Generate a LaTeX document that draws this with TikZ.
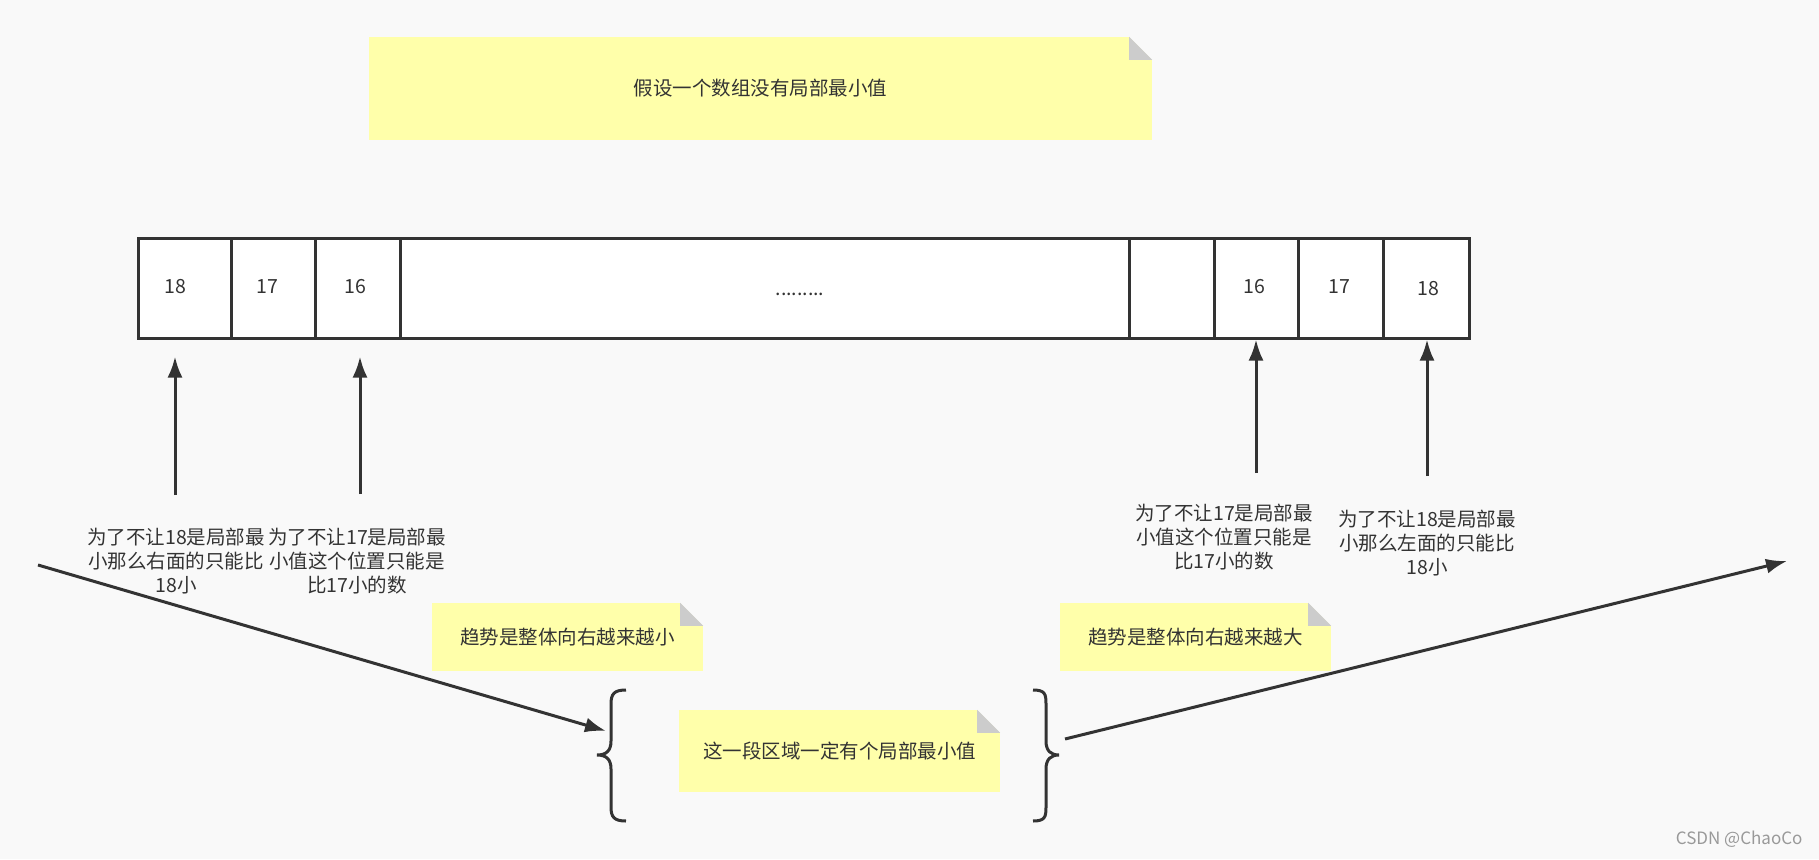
\documentclass[tikz,border=0pt]{standalone}
\usepackage{fontspec}
\setmainfont{Noto Sans CJK SC}
\usepackage{xcolor}
\usetikzlibrary{arrows.meta}

\definecolor{bgcol}{HTML}{F9F9F9}
\definecolor{notecol}{HTML}{FFFFAA}
\definecolor{foldcol}{HTML}{CCCCCC}
\definecolor{inkcol}{HTML}{333333}

\begin{document}
\begin{tikzpicture}[x=1pt,y=-1pt,
  every node/.style={text=inkcol, font=\fontsize{19.5}{24}\selectfont},
  cell/.style={draw=inkcol, line width=3pt, fill=white, minimum height=100pt, inner sep=0pt, anchor=west},
  note/.style={fill=notecol, inner sep=0pt},
  why/.style={align=center, inner sep=0pt},
  arr/.style={draw=inkcol, line width=3pt, -{Latex[length=21pt,width=15pt]}},
  brace/.style={draw=inkcol, line width=3pt}]
%draw background
\fill[bgcol] (0,0) rectangle (1819,859);
\useasboundingbox (0,0) rectangle (1819,859);
%draw notes
\node[note, minimum width=783pt, minimum height=103pt] (top) at (760.5,88.5) {假设一个数组没有局部最小值};
\node[note, minimum width=271pt, minimum height=68pt] (down) at (567.5,637) {趋势是整体向右越来越小};
\node[note, minimum width=271pt, minimum height=68pt] (up) at (1195.5,637) {趋势是整体向右越来越大};
\node[note, minimum width=321pt, minimum height=82pt] (region) at (839.5,751) {这一段区域一定有个局部最小值};
%draw folded corners
\foreach \n in {top, down, up, region}{
   \fill[bgcol] (\n.north east) -- ++(-23,0) -- ++(23,23) -- cycle;
   \fill[foldcol] (\n.north east) ++(-23,0) -- ++(0,23) -- ++(23,0) -- cycle;
}
%draw array cells
\foreach \name/\x/\w in {c1/137/93, c2/230/84, c3/314/85, c4/399/729,
                         c5/1128/85, c6/1213/84, c7/1297/85, c8/1382/86}{
   \node[cell, minimum width=\w pt] (\name) at (\x,288) {};
}
%draw cell values
\foreach \name/\x/\y/\val in {v1/175/287/18, v2/267/287/17, v3/355/287/16, v4/800/294/{.........},
                              v6/1254/287/16, v7/1339/287/17, v8/1428/289/18}{
   \node (\name) at (\x,\y) {\val};
}
%draw explanations
\node[why] (l1) at (176,561) {为了不让18是局部最\\小那么右面的只能比\\18小};
\node[why] (l2) at (357,561) {为了不让17是局部最\\小值这个位置只能是\\比17小的数};
\node[why] (r1) at (1224,537) {为了不让17是局部最\\小值这个位置只能是\\比17小的数};
\node[why] (r2) at (1427,543) {为了不让18是局部最\\小那么左面的只能比\\18小};
%draw vertical arrows
\coordinate (a1) at (175,495);
\coordinate (a2) at (360,494);
\coordinate (a3) at (1256,473);
\coordinate (a4) at (1427,476);
\draw[arr, shorten >=17pt] (a1) -- (a1 |- c1.south);
\draw[arr, shorten >=17pt] (a2) -- (a2 |- c3.south);
\draw[arr] (a3) -- (a3 |- c6.south);
\draw[arr] (a4) -- (a4 |- c8.south);
%draw braces
\draw[brace] (626,690) .. controls (614,690) and (611,694) .. (611,704) -- (611,741)
   .. controls (611,751) and (606,755) .. (597,755) .. controls (606,755) and (611,759) .. (611,769)
   -- (611,807) .. controls (611,817) and (614,821) .. (626,821);
\draw[brace] (1033,690) .. controls (1045,690) and (1046,694) .. (1046,704) -- (1046,741)
   .. controls (1046,751) and (1051,755) .. (1059,755) .. controls (1051,755) and (1046,759) .. (1046,769)
   -- (1046,807) .. controls (1046,817) and (1045,821) .. (1033,821);
%draw trend arrows
\coordinate (s1) at (38,565);
\coordinate (e1) at (606,731);
\coordinate (s2) at (1065,739);
\coordinate (e2) at (1787,561);
\draw[arr] (s1) -- (e1);
\draw[arr] (s2) -- (e2);
%watermark
\node[text=gray!80, font=\fontsize{17}{20}\selectfont, anchor=east] (mark) at (1806,839) {CSDN @ChaoCo};
\end{tikzpicture}
\end{document}
